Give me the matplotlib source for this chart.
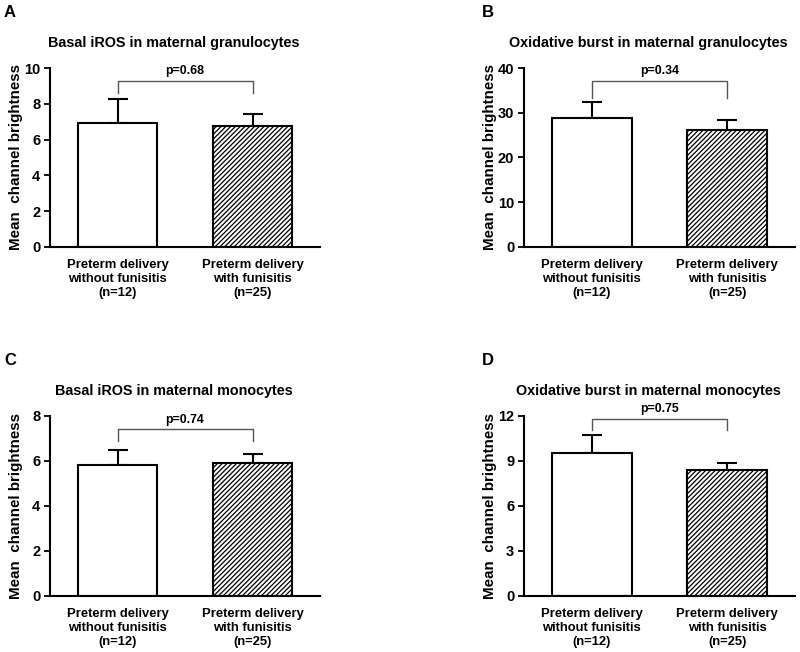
import matplotlib
matplotlib.use("Agg")
import matplotlib.pyplot as plt
import numpy as np

plt.rcParams['font.family'] = ['Liberation Sans', 'DejaVu Sans']
plt.rcParams['hatch.linewidth'] = 0.9

categories = ["Preterm delivery\nwithout funisitis\n(n=12)",
              "Preterm delivery\nwith funisitis\n(n=25)"]
titles = ["Basal iROS in maternal granulocytes",
          "Oxidative burst in maternal granulocytes",
          "Basal iROS in maternal monocytes",
          "Oxidative burst in maternal monocytes"]
letters = ["A", "B", "C", "D"]
means_A = [6.93, 6.76]
errs_A = [1.35, 0.67]
means_B = [28.8, 26.1]
errs_B = [3.5, 2.2]
means_C = [5.83, 5.92]
errs_C = [0.67, 0.40]
means_D = [9.51, 8.39]
errs_D = [1.20, 0.45]
pvals = ["p=0.68", "p=0.34", "p=0.74", "p=0.75"]
ymaxes = [10, 40, 8, 12]
ysteps = [2, 10, 2, 3]
bracket_y = [9.27, 37.1, 7.41, 11.8]
bracket_drop = [8.6, 33.4, 6.89, 11.07]

means = [means_A, means_B, means_C, means_D]
errs = [errs_A, errs_B, errs_C, errs_D]

W, H = 800, 652
fig = plt.figure(figsize=(8, 6.52), dpi=100)
positions = [
    [0.0625, 0.6212, 0.3375, 0.2745],
    [0.655, 0.6212, 0.33875, 0.2745],
    [0.0625, 0.0864, 0.3375, 0.2756],
    [0.655, 0.0864, 0.33875, 0.2756],
]
letter_px = [(4, 5), (482, 5), (4, 353), (482, 353)]

for i in range(4):
    ax = fig.add_axes(positions[i])
    x = np.arange(2)
    ax.bar(x[0], means[i][0], width=0.59, color='white', edgecolor='black',
           linewidth=1.5, zorder=2)
    ax.bar(x[1], means[i][1], width=0.59, color='white', edgecolor='black',
           linewidth=1.5, hatch='///////', zorder=2)
    ax.errorbar(x, means[i], yerr=[[0, 0], errs[i]], fmt='none', ecolor='black',
                elinewidth=1.5, capsize=7.2, capthick=1.5, zorder=1)
    ax.set_xlim(-0.5, 1.5)
    ax.set_ylim(0, ymaxes[i])
    ax.set_yticks(np.arange(0, ymaxes[i] + 0.001, ysteps[i]))
    ax.set_xticks(x)
    ax.set_xticklabels(categories, fontsize=9.4, fontweight='bold',
                       linespacing=1.2)
    ax.tick_params(axis='x', length=0, pad=9)
    ax.tick_params(axis='y', length=4, width=1.3, labelsize=10.5,
                   direction='out', pad=3)
    for lab in ax.get_yticklabels():
        lab.set_fontweight('bold')
    for s in ['top', 'right']:
        ax.spines[s].set_visible(False)
    for s in ['left', 'bottom']:
        ax.spines[s].set_linewidth(1.5)
    ax.set_ylabel("Mean  channel brightness", fontsize=10.9, fontweight='bold')
    ax.yaxis.set_label_coords(-0.10, 0.5)
    # title, slightly left of axes center as in the reference
    ax.text(0.5 - 11 / 270, 1 + 25 / 180, titles[i], transform=ax.transAxes,
            ha='center', va='center', fontsize=10.4, fontweight='bold')
    # bracket
    by = bracket_y[i]
    bd = bracket_drop[i]
    ax.plot([x[0], x[0], x[1], x[1]], [bd, by, by, bd], color='#555555',
            linewidth=1.0, clip_on=False, zorder=3)
    ax.text(0.5, by + ymaxes[i] * 0.02, pvals[i], ha='center', va='bottom',
            fontsize=8.9, fontweight='bold')
    # panel letter
    lx, ly = letter_px[i]
    fig.text(lx / W, 1 - ly / H, letters[i], fontsize=12, fontweight='bold',
             ha='left', va='top')

fig.savefig("out.png", dpi=100)
